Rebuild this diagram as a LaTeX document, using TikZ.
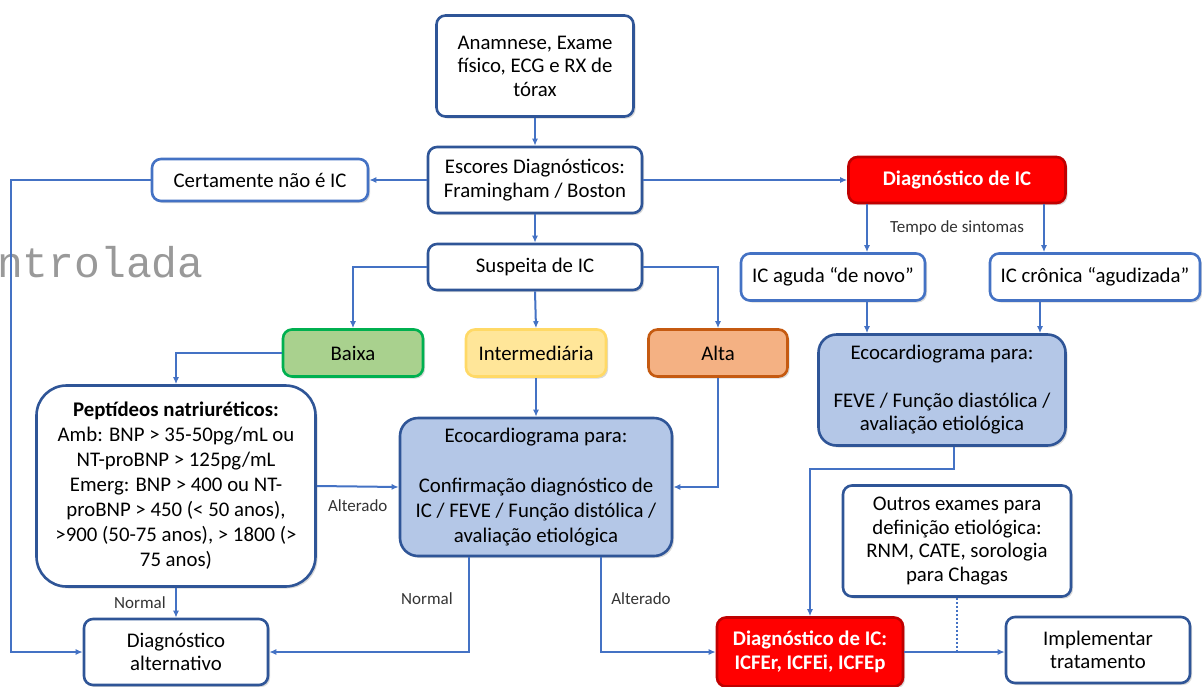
\documentclass[tikz,border=0pt]{standalone}
\usepackage{fontspec}
\setmainfont{Carlito}
\newfontfamily\wmfont{Liberation Mono}
\usetikzlibrary{arrows.meta,shadows}
\definecolor{linkblue}{HTML}{4472C4}
\definecolor{boxblue}{HTML}{2F5597}
\definecolor{ecofill}{HTML}{B4C7E7}
\definecolor{lowfill}{HTML}{A9D18E}
\definecolor{lowdraw}{HTML}{00B050}
\definecolor{midfill}{HTML}{FFE699}
\definecolor{middraw}{HTML}{FFD966}
\definecolor{highfill}{HTML}{F4B183}
\definecolor{highdraw}{HTML}{C55A11}
\definecolor{redfill}{HTML}{FF0000}
\definecolor{reddraw}{HTML}{C00000}
\tikzset{
  box/.style={draw=boxblue, line width=2.6pt, rounded corners=9pt, fill=white,
    align=center, inner sep=2pt, font=\fontsize{20.8}{23.5}\selectfont,
    drop shadow={opacity=0.3, shadow xshift=2pt, shadow yshift=-2pt}},
  lightbox/.style={box, draw=linkblue},
  ecobox/.style={box, fill=ecofill, rounded corners=18pt},
  redbox/.style={box, draw=reddraw, fill=redfill, text=white, font=\fontsize{20.8}{23.5}\selectfont\bfseries},
  conn/.style={draw=linkblue, line width=2pt, -{Latex[length=7pt,width=6pt]}},
  tag/.style={font=\fontsize{17}{20}\selectfont, text=black!80},
  wmark/.style={font=\wmfont\fontsize{43}{43}\selectfont, text=black!40}
}
\begin{document}
\begin{tikzpicture}[x=1pt,y=-1pt]%
          \useasboundingbox (0,0) rectangle (1202,686);%
          \node [wmark, anchor=base east] (wm) at (207,277) {ntrolada};%
          % top of the chart
          \node [box, minimum width=197, minimum height=101] (ana) at (535,66) {Anamnese, Exame\\físico, ECG e RX de\\tórax};%
          \node [box, minimum width=214, minimum height=66] (esc) at (535,180) {Escores Diagnósticos:\\Framingham / Boston};%
          \node [lightbox, minimum width=216, minimum height=42] (cert) at (260,180) {Certamente não é IC};%
          \node [redbox, minimum width=217, minimum height=46] (diag) at (957,180) {Diagnóstico de IC};%
          \node [box, minimum width=214, minimum height=46] (susp) at (535,267) {Suspeita de IC};%
          % probability
          \node [box, draw=lowdraw, fill=lowfill, minimum width=140, minimum height=47] (baixa) at (353,353) {Baixa};%
          \node [box, draw=middraw, fill=midfill, minimum width=140, minimum height=47] (inter) at (536,353) {Intermediária};%
          \node [box, draw=highdraw, fill=highfill, minimum width=139, minimum height=47] (alta) at (718,353) {Alta};%
          % symptom time
          \node [tag] (tempo) at (957,228) {Tempo de sintomas};%
          \node [lightbox, minimum width=184, minimum height=47] (aguda) at (833,277) {IC aguda “de novo”};%
          \node [lightbox, minimum width=210, minimum height=47] (cronica) at (1095,277) {IC crônica “agudizada”};%
          \node [ecobox, minimum width=247, minimum height=111] (ecoR) at (942,390) {Ecocardiograma para:\\[24pt]FEVE / Função diastólica /\\avaliação etiológica};%
          % middle row
          \node [box, rounded corners=30pt, minimum width=279, minimum height=201, font=\fontsize{20.8}{25}\selectfont] (pept) at (176,486) {\textbf{Peptídeos natriuréticos:}\\Amb: BNP > 35-50pg/mL ou\\NT-proBNP > 125pg/mL\\Emerg: BNP > 400 ou NT-\\proBNP > 450 (< 50 anos),\\>900 (50-75 anos), > 1800 (>\\75 anos)};%
          \node [ecobox, minimum width=272, minimum height=138, font=\fontsize{20.8}{25}\selectfont] (ecoM) at (536,487) {Ecocardiograma para:\\[25pt]Confirmação diagnóstico de\\IC / FEVE / Função distólica /\\avaliação etiológica};%
          \node [box, minimum width=228, minimum height=111] (outros) at (957,541) {Outros exames para\\definição etiológica:\\RNM, CATE, sorologia\\para Chagas};%
          % bottom row
          \node [box, minimum width=184, minimum height=66] (alt) at (176,652) {Diagnóstico\\alternativo};%
          \node [redbox, minimum width=186, minimum height=69] (diag2) at (810,652) {Diagnóstico de IC:\\ICFEr, ICFEi, ICFEp};%
          \node [box, minimum width=184, minimum height=66] (impl) at (1098,650) {Implementar\\tratamento};%
          % connectors
          \draw [conn] (ana.south) to (esc.north);%
          \draw [conn] (esc.west) to (cert.east);%
          \draw [conn] (esc.east) to (diag.west);%
          \draw [conn] (esc.south) to (susp.north);%
          \draw [conn] (cert.west) -- ++(-140,0) |- (alt.west);%
          \draw [conn] (susp.west) -| (baixa.north);%
          \draw [conn] (susp.south) to (inter.north);%
          \draw [conn] (susp.east) -| (alta.north);%
          \draw [conn] (baixa.west) -| (pept.north);%
          \draw [conn] (inter.south) to (ecoM.north);%
          \draw [conn] (alta.south) |- (ecoM.east);%
          \draw [conn] (pept.east) to node [tag, below=9pt] {Alterado} (ecoM.west);%
          \draw [conn] (pept.south) to node [tag, left=6pt] {Normal} (alt.north);%
          \draw [conn] ([xshift=-67pt]ecoM.south) |- node [tag, pos=0.22, left=12pt] {Normal} (alt.east);%
          \draw [conn] ([xshift=65pt]ecoM.south) |- node [tag, pos=0.22, right=6pt] {Alterado} (diag2.west);%
          \draw [conn] ([xshift=-90pt]diag.south) to ([xshift=-90pt]diag.south |- aguda.north);%
          \draw [conn] ([xshift=87pt]diag.south) to ([xshift=87pt]diag.south |- cronica.north);%
          \draw [conn] ([xshift=34pt]aguda.south) to ([xshift=34pt]aguda.south |- ecoR.north);%
          \draw [conn] ([xshift=-55pt]cronica.south) to ([xshift=-55pt]cronica.south |- ecoR.north);%
          \draw [conn] ([xshift=12pt]ecoR.south) -- ++(0,22) -| (diag2.north);%
          \draw [conn] (diag2.east) to (diag2.east -| impl.west);%
          \draw [draw=linkblue, line width=2pt, dotted] (outros.south) to (outros.south |- diag2.east);%
        \end{tikzpicture}
\end{document}
